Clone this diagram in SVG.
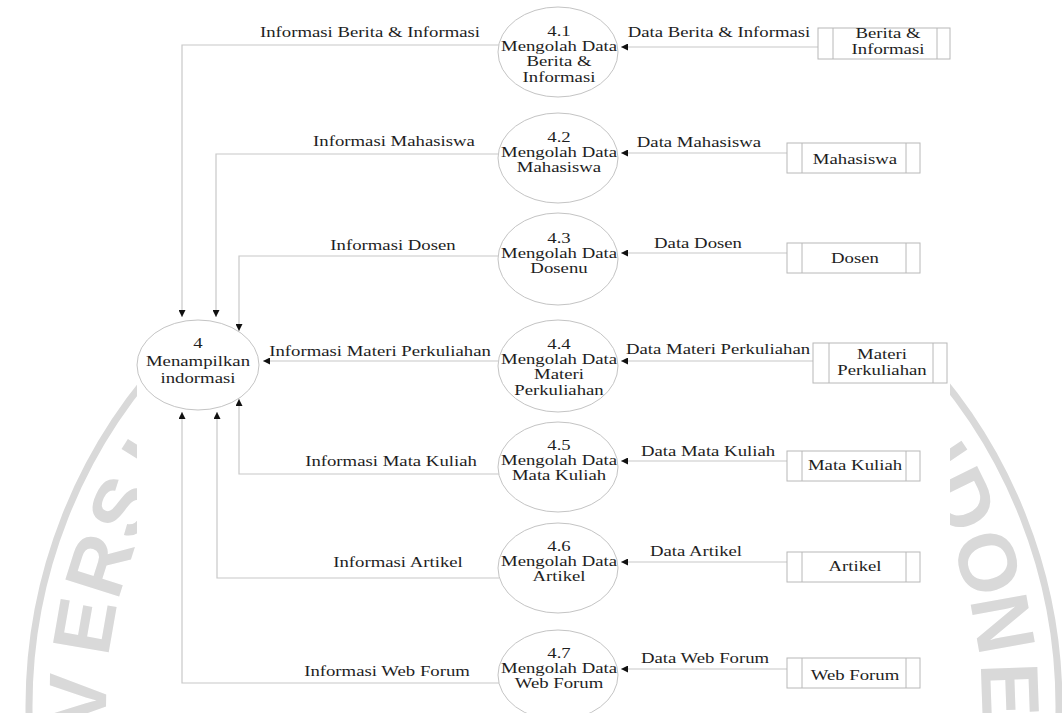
<svg xmlns="http://www.w3.org/2000/svg" width="1062" height="713" viewBox="0 0 1062 713">
<style>
.wm{font-family:"Liberation Sans",Arial,sans-serif;font-weight:bold;font-size:82px;fill:#d9d9d9;text-anchor:middle}
.t{font-family:"Liberation Serif","Times New Roman",serif;font-size:15px;fill:#1e1e1e;text-anchor:middle}
.proc{fill:#ffffff;stroke:#c4c4c4;stroke-width:1}
.store{fill:#ffffff;stroke:#b8b8b8;stroke-width:1}
.flow{fill:none;stroke:#c8c8c8;stroke-width:1.2}
</style>
<defs>
<marker id="ah" markerUnits="userSpaceOnUse" markerWidth="8" markerHeight="7" refX="7" refY="3.5" orient="auto"><path d="M0,0 L7,3.5 L0,7 z" fill="#111"/></marker>
</defs>
<rect x="0" y="0" width="1062" height="713" fill="#ffffff"/>
<g id="watermark">
<circle cx="544" cy="706" r="515" fill="none" stroke="#d9d9d9" stroke-width="7"/>
<text class="wm" transform="translate(544 706) rotate(-89.3) translate(0 -438)">V</text>
<text class="wm" transform="translate(544 706) rotate(-80.1) translate(0 -438)">E</text>
<text class="wm" transform="translate(544 706) rotate(-72.4) translate(0 -438)">R</text>
<text class="wm" transform="translate(544 706) rotate(-64.7) translate(0 -438)">S</text>
<text class="wm" transform="translate(544 706) rotate(-58) translate(0 -438)">I</text>
<text class="wm" transform="translate(544 706) rotate(56) translate(0 -438)">N</text>
<text class="wm" transform="translate(544 706) rotate(63.8) translate(0 -438)">D</text>
<text class="wm" transform="translate(544 706) rotate(72.1) translate(0 -438)">O</text>
<text class="wm" transform="translate(544 706) rotate(79.8) translate(0 -438)">N</text>
<text class="wm" transform="translate(544 706) rotate(88) translate(0 -438)">E</text>
</g>
<rect x="137" y="0" width="813" height="713" fill="#ffffff"/>
<g id="connectors">
<path class="flow" d="M499,45 H182 V317" marker-end="url(#ah)"/>
<path class="flow" d="M499,154 H216 V317" marker-end="url(#ah)"/>
<path class="flow" d="M499,256 H239 V331" marker-end="url(#ah)"/>
<path class="flow" d="M499,361 H263" marker-end="url(#ah)"/>
<path class="flow" d="M499,474 H239 V399" marker-end="url(#ah)"/>
<path class="flow" d="M499,578 H217 V412" marker-end="url(#ah)"/>
<path class="flow" d="M499,683 H182 V412" marker-end="url(#ah)"/>
<path class="flow" d="M818,47 H621" marker-end="url(#ah)"/>
<path class="flow" d="M787,153 H621" marker-end="url(#ah)"/>
<path class="flow" d="M787,253 H621" marker-end="url(#ah)"/>
<path class="flow" d="M813,361 H621" marker-end="url(#ah)"/>
<path class="flow" d="M787,461 H621" marker-end="url(#ah)"/>
<path class="flow" d="M787,562 H621" marker-end="url(#ah)"/>
<path class="flow" d="M787,669 H621" marker-end="url(#ah)"/>
<text class="t" transform="translate(370 37) scale(1.25 1)">Informasi Berita &amp; Informasi</text>
<text class="t" transform="translate(394 146) scale(1.25 1)">Informasi Mahasiswa</text>
<text class="t" transform="translate(393 250) scale(1.25 1)">Informasi Dosen</text>
<text class="t" transform="translate(380 356) scale(1.25 1)">Informasi Materi Perkuliahan</text>
<text class="t" transform="translate(391 466) scale(1.25 1)">Informasi Mata Kuliah</text>
<text class="t" transform="translate(398 567) scale(1.25 1)">Informasi Artikel</text>
<text class="t" transform="translate(387 676) scale(1.25 1)">Informasi Web Forum</text>
<text class="t" transform="translate(719 37) scale(1.25 1)">Data Berita &amp; Informasi</text>
<text class="t" transform="translate(699 147) scale(1.25 1)">Data Mahasiswa</text>
<text class="t" transform="translate(698 248) scale(1.25 1)">Data Dosen</text>
<text class="t" transform="translate(718 354) scale(1.25 1)">Data Materi Perkuliahan</text>
<text class="t" transform="translate(708 456) scale(1.25 1)">Data Mata Kuliah</text>
<text class="t" transform="translate(696 556) scale(1.25 1)">Data Artikel</text>
<text class="t" transform="translate(705 663) scale(1.25 1)">Data Web Forum</text>
</g>
<g id="p4">
<ellipse class="proc" cx="198" cy="365" rx="61" ry="45"/>
<text class="t" transform="translate(198 365) scale(1.25 1)"><tspan x="0" y="-17">4</tspan><tspan x="0" y="1">Menampilkan</tspan><tspan x="0" y="18">indormasi</tspan></text>
</g>
<g id="p41">
<ellipse class="proc" cx="558" cy="52" rx="60" ry="45"/>
<text class="t" transform="translate(559 52) scale(1.25 1)"><tspan x="0" y="-16">4.1</tspan><tspan x="0" y="-1">Mengolah Data</tspan><tspan x="0" y="14.5">Berita &amp;</tspan><tspan x="0" y="30">Informasi</tspan></text>
</g>
<g id="p42">
<ellipse class="proc" cx="558" cy="158" rx="60" ry="45"/>
<text class="t" transform="translate(559 158) scale(1.25 1)"><tspan x="0" y="-16">4.2</tspan><tspan x="0" y="-1">Mengolah Data</tspan><tspan x="0" y="14.5">Mahasiswa</tspan></text>
</g>
<g id="p43">
<ellipse class="proc" cx="558" cy="259" rx="60" ry="46"/>
<text class="t" transform="translate(559 259) scale(1.25 1)"><tspan x="0" y="-16">4.3</tspan><tspan x="0" y="-1">Mengolah Data</tspan><tspan x="0" y="14.5">Dosenu</tspan></text>
</g>
<g id="p44">
<ellipse class="proc" cx="558" cy="366" rx="60" ry="46"/>
<text class="t" transform="translate(559 366) scale(1.25 1)"><tspan x="0" y="-17">4.4</tspan><tspan x="0" y="-2">Mengolah Data</tspan><tspan x="0" y="13.5">Materi</tspan><tspan x="0" y="29">Perkuliahan</tspan></text>
</g>
<g id="p45">
<ellipse class="proc" cx="558" cy="467" rx="60" ry="45"/>
<text class="t" transform="translate(559 467) scale(1.25 1)"><tspan x="0" y="-17">4.5</tspan><tspan x="0" y="-2">Mengolah Data</tspan><tspan x="0" y="13.5">Mata Kuliah</tspan></text>
</g>
<g id="p46">
<ellipse class="proc" cx="558" cy="568" rx="60" ry="45"/>
<text class="t" transform="translate(559 568) scale(1.25 1)"><tspan x="0" y="-17">4.6</tspan><tspan x="0" y="-2">Mengolah Data</tspan><tspan x="0" y="13.5">Artikel</tspan></text>
</g>
<g id="p47">
<ellipse class="proc" cx="558" cy="675" rx="60" ry="45"/>
<text class="t" transform="translate(559 675) scale(1.25 1)"><tspan x="0" y="-17">4.7</tspan><tspan x="0" y="-2">Mengolah Data</tspan><tspan x="0" y="13.5">Web Forum</tspan></text>
</g>
<g id="s-berita">
<rect class="store" x="818" y="28" width="132" height="31"/>
<path class="store" d="M833,28 V59 M937,28 V59"/>
<text class="t" transform="translate(888 0) scale(1.25 1)"><tspan x="0" y="38">Berita &amp;</tspan><tspan x="0" y="54">Informasi</tspan></text>
</g>
<g id="s-mahasiswa">
<rect class="store" x="787" y="143" width="133" height="30"/>
<path class="store" d="M802,143 V173 M906,143 V173"/>
<text class="t" transform="translate(855 164) scale(1.25 1)">Mahasiswa</text>
</g>
<g id="s-dosen">
<rect class="store" x="787" y="243" width="133" height="30"/>
<path class="store" d="M802,243 V273 M906,243 V273"/>
<text class="t" transform="translate(855 263) scale(1.25 1)">Dosen</text>
</g>
<g id="s-materi">
<rect class="store" x="813" y="343" width="134" height="40"/>
<path class="store" d="M829,343 V383 M933,343 V383"/>
<text class="t" transform="translate(882 0) scale(1.25 1)"><tspan x="0" y="359">Materi</tspan><tspan x="0" y="375">Perkuliahan</tspan></text>
</g>
<g id="s-matakuliah">
<rect class="store" x="787" y="451" width="133" height="30"/>
<path class="store" d="M802,451 V481 M906,451 V481"/>
<text class="t" transform="translate(855 470) scale(1.25 1)">Mata Kuliah</text>
</g>
<g id="s-artikel">
<rect class="store" x="787" y="552" width="133" height="30"/>
<path class="store" d="M802,552 V582 M906,552 V582"/>
<text class="t" transform="translate(855 571) scale(1.25 1)">Artikel</text>
</g>
<g id="s-webforum">
<rect class="store" x="787" y="658" width="133" height="30"/>
<path class="store" d="M802,658 V688 M906,658 V688"/>
<text class="t" transform="translate(855 680) scale(1.25 1)">Web Forum</text>
</g>
</svg>
